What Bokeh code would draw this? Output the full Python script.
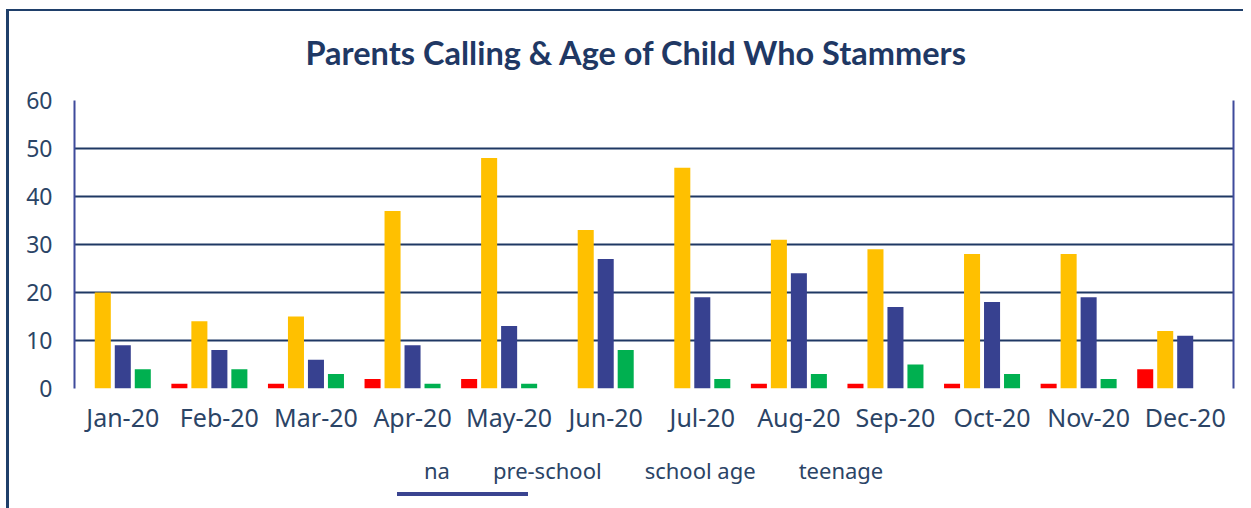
from bokeh.plotting import figure
from bokeh.layouts import column
from bokeh.models import (FactorRange, Range1d, Legend, LegendItem, LinearAxis,
                          FixedTicker, ColumnDataSource)
from bokeh.transform import dodge
from bokeh.embed import file_html
from bokeh.resources import INLINE

months = ["Jan-20", "Feb-20", "Mar-20", "Apr-20", "May-20", "Jun-20",
          "Jul-20", "Aug-20", "Sep-20", "Oct-20", "Nov-20", "Dec-20"]
na = [0, 1, 1, 2, 2, 0, 0, 1, 1, 1, 1, 4]
pre_school = [20, 14, 15, 37, 48, 33, 46, 31, 29, 28, 28, 12]
school_age = [9, 8, 6, 9, 13, 27, 19, 24, 17, 18, 19, 11]
teenage = [4, 4, 3, 1, 1, 8, 2, 3, 5, 3, 2, 0]
y_ticks = [0, 10, 20, 30, 40, 50, 60]

series = [("na", "na", "#ff0000", -0.414),
          ("pre-school", "pre", "#ffc000", -0.207),
          ("school age", "school", "#374190", 0.0),
          ("teenage", "teen", "#00b050", 0.207)]

src = ColumnDataSource(dict(month=months, na=na, pre=pre_school, school=school_age, teen=teenage))

NAVY = "#1f3864"
BORDER = "#3f4b9b"
TXT = "#2b4466"
FRAME = "#1f3f6a"
PEN = "#3a4490"

p = figure(x_range=FactorRange(*months, range_padding=0), y_range=Range1d(0, 60),
           width=1243, height=440, frame_width=1159, frame_height=288,
           output_backend="svg", toolbar_location=None,
           min_border_left=74, min_border_right=10, min_border_top=100, min_border_bottom=52)
p.border_fill_color = None
# outer chart-area frame (left and top edges) as CSS backgrounds
p.styles = {
    "background-image": f"linear-gradient({FRAME}, {FRAME}), linear-gradient({FRAME}, {FRAME})",
    "background-repeat": "no-repeat, no-repeat",
    "background-size": "3px 600px, 1240px 2px",
    "background-position": "6px 9px, 6px 9px",
}

p.title.text = "Parents Calling &  Age of Child Who Stammers"
p.title.align = "left"
p.title.offset = 231
p.title.text_font = "Lato"
p.title.text_font_style = "bold"
p.title.text_font_size = "32.5px"
p.title.text_color = NAVY
p.title.standoff = 58

p.outline_line_color = None
p.xgrid.grid_line_color = None
p.ygrid.ticker = FixedTicker(ticks=y_ticks[1:])
p.ygrid.grid_line_color = NAVY
p.ygrid.grid_line_width = 2

p.yaxis.ticker = FixedTicker(ticks=y_ticks)
p.yaxis.axis_line_color = BORDER
p.yaxis.axis_line_width = 2
p.yaxis.major_tick_line_color = None
p.yaxis.minor_tick_line_color = None
p.yaxis.major_label_standoff = 16
p.yaxis.major_label_text_font = "Noto Sans"
p.yaxis.major_label_text_font_size = "23px"
p.yaxis.major_label_text_color = TXT

p.xaxis.axis_line_color = None
p.xaxis.major_tick_line_color = None
p.xaxis.major_label_standoff = 5
p.xaxis.major_label_text_font = "Noto Sans"
p.xaxis.major_label_text_font_size = "25px"
p.xaxis.major_label_text_color = TXT

right = LinearAxis(ticker=FixedTicker(ticks=[]), axis_line_color=BORDER, axis_line_width=2,
                   major_tick_line_color=None, minor_tick_line_color=None,
                   major_label_text_font_size="0px", major_label_standoff=0)
p.add_layout(right, "right")

for name, col, color, off in series:
    p.vbar(x=dodge("month", off, range=p.x_range), top=col, width=0.166, source=src,
           fill_color=color, line_color=None)

# legend strip below the chart (its own small canvas so the legend is not clipped)
lp = figure(width=1243, height=68, x_range=Range1d(0, 1), y_range=Range1d(0, 1),
            output_backend="svg", toolbar_location=None,
            x_axis_location=None, y_axis_location=None,
            min_border_left=0, min_border_right=0, min_border_top=0, min_border_bottom=0)
lp.outline_line_color = None
lp.xgrid.grid_line_color = None
lp.ygrid.grid_line_color = None
lp.border_fill_color = None
lp.background_fill_color = None
lp.styles = {
    "background-image": f"linear-gradient({FRAME}, {FRAME}), linear-gradient({PEN}, {PEN})",
    "background-repeat": "no-repeat, no-repeat",
    "background-size": "3px 100px, 131px 4px",
    "background-position": "6px 0px, 397px 52px",
}

items = []
for name, col, color, off in series:
    r = lp.vbar(x=[], top=[], width=0.1, fill_color=color, line_color=None)
    items.append(LegendItem(label=name, renderers=[r]))

legend = Legend(items=items, orientation="horizontal", location=(329, 23),
                glyph_width=16, glyph_height=18, label_standoff=5, spacing=22,
                label_text_font="Noto Sans", label_text_font_size="22px", label_text_color=TXT,
                border_line_color=None, background_fill_color=None, background_fill_alpha=0,
                padding=0, margin=0)
lp.add_layout(legend, "center")

layout = column(p, lp, spacing=0)
open("out.html", "w").write(file_html(layout, INLINE))
